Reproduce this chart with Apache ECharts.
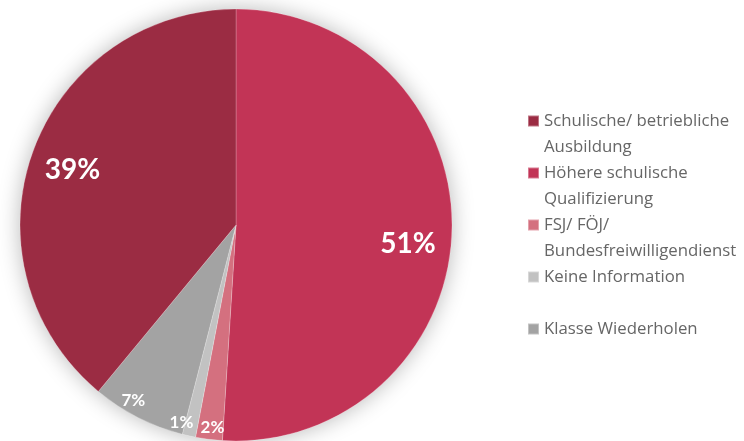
<!DOCTYPE html>
<html>
<head>
<meta charset="utf-8">
<script src="https://cdn.jsdelivr.net/npm/echarts@6/dist/echarts.min.js"></script>
<style>html,body{margin:0;padding:0;background:#fff}#c{width:744px;height:441px}</style>
</head>
<body>
<div id="c"></div>
<script>
// Data in clockwise order starting at 12 o'clock
const categories = ['Höhere schulische Qualifizierung', 'FSJ/ FÖJ/ Bundesfreiwilligendienst', 'Keine Information', 'Klasse Wiederholen', 'Schulische/ betriebliche Ausbildung'];
const values = [51, 2, 1, 7, 39];
const colors = ['#C23456', '#D4707F', '#C2C2C2', '#A3A3A3', '#9B2C43'];
const legendOrder = ['Schulische/ betriebliche Ausbildung', 'Höhere schulische Qualifizierung', 'FSJ/ FÖJ/ Bundesfreiwilligendienst', 'Keine Information', 'Klasse Wiederholen'];
const legendLines = {
  'Schulische/ betriebliche Ausbildung': ['Schulische/ betriebliche', 'Ausbildung'],
  'Höhere schulische Qualifizierung': ['Höhere schulische', 'Qualifizierung'],
  'FSJ/ FÖJ/ Bundesfreiwilligendienst': ['FSJ/ FÖJ/', 'Bundesfreiwilligendienst'],
  'Keine Information': ['Keine Information', ' '],
  'Klasse Wiederholen': ['Klasse Wiederholen', ' ']
};

const FONT = 'Lato';
const LH = 26;
const chart = echarts.init(document.getElementById('c'), null, {renderer: 'canvas'});
const center = [236, 225];
const R = 216;

const mainData = categories.map((n, i) => ({name: n, value: values[i], itemStyle: {color: colors[i]}}));

// small label nudges (style only) to keep the narrow-slice labels apart, as in the original
const labelNudge = [[-3, 13], [2, 0], [-10, -2], [-10, -6], [1, 4]];

// label positions from data through the polar angle axis (0..100 = full circle)
const labelPoints = [];
let cum = 0;
values.forEach((v, i) => {
  const big = v >= 10;
  labelPoints.push({
    value: [big ? 0.81 : 0.945, cum + v / 2, v],
    label: {fontSize: big ? 28 : 17, offset: labelNudge[i]}
  });
  cum += v;
});

chart.setOption({
  animation: false,
  legend: {
    orient: 'vertical',
    left: 522,
    top: 77,
    itemWidth: 11,
    itemHeight: 11,
    itemGap: -LH,
    icon: 'rect',
    data: legendOrder,
    // blank first line keeps the icon aligned with the first text line
    formatter: n => ' \n' + legendLines[n].join('\n'),
    textStyle: {fontFamily: 'Open Sans', fontSize: 16.8, color: '#666', lineHeight: LH}
  },
  polar: {center: center, radius: R},
  angleAxis: {type: 'value', min: 0, max: 100, startAngle: 90, clockwise: true, show: false},
  radiusAxis: {type: 'value', min: 0, max: 1, show: false},
  series: [
    {
      type: 'pie', silent: true, center: center, radius: [0, R], startAngle: 90,
      label: {show: false}, labelLine: {show: false},
      itemStyle: {color: '#fff', shadowBlur: 22, shadowColor: 'rgba(0,0,0,0.28)'},
      data: [{name: '_bg', value: 1}], z: 1
    },
    {
      type: 'pie', center: center, radius: [0, R], startAngle: 90, clockwise: true,
      label: {show: false}, labelLine: {show: false},
      itemStyle: {borderColor: 'rgba(255,255,255,0.35)', borderWidth: 0.6},
      data: mainData, z: 2
    },
    {
      type: 'scatter', coordinateSystem: 'polar', silent: true, symbolSize: 1,
      itemStyle: {color: 'rgba(0,0,0,0)', opacity: 1},
      label: {show: true, position: 'inside', formatter: p => p.value[2] + '%', color: '#fff', fontFamily: FONT, fontWeight: 'bold', textBorderWidth: 0},
      data: labelPoints, z: 5
    }
  ]
});
</script>
</body>
</html>
